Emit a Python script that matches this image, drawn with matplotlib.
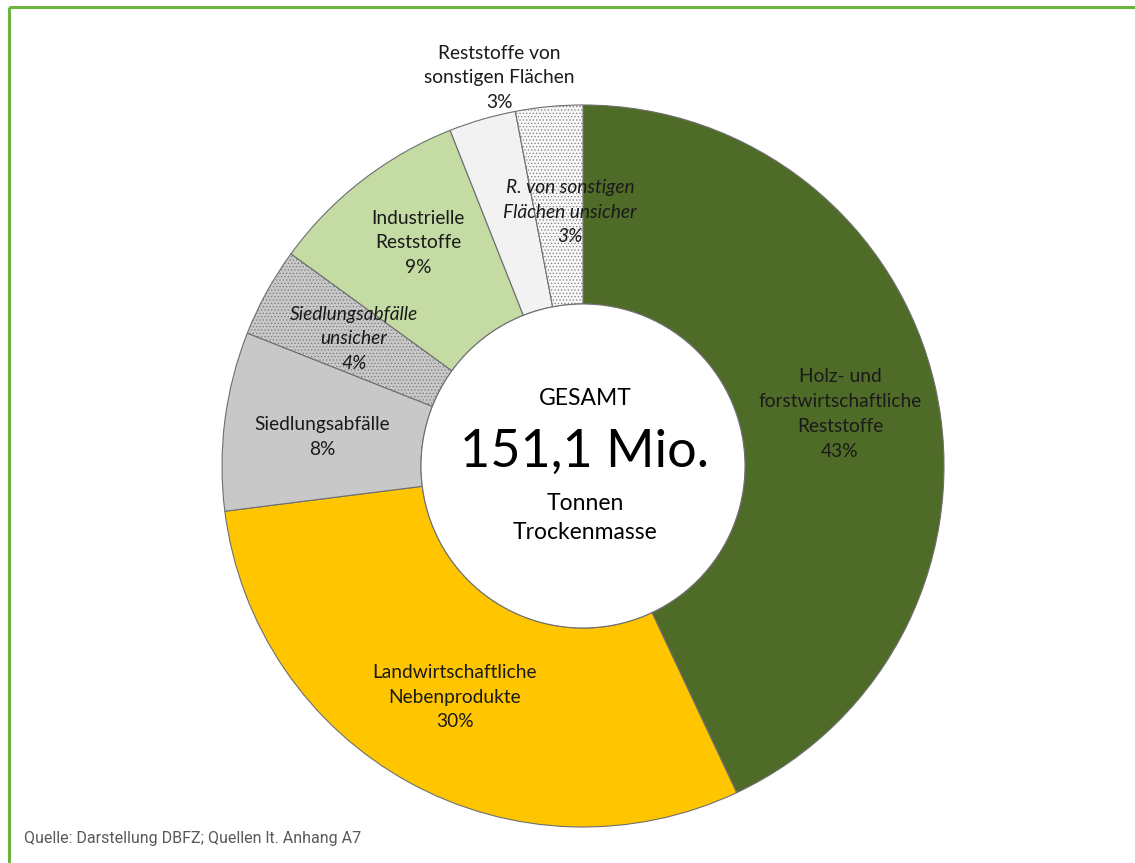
"""Donut chart: biogenic residues potential by source (151,1 Mio. t dry mass)."""

import matplotlib

matplotlib.use("Agg")
import matplotlib.pyplot as plt  # noqa: E402
from matplotlib.patches import Circle, Wedge  # noqa: E402

plt.rcParams["font.family"] = ["Lato", "DejaVu Sans"]
plt.rcParams["hatch.linewidth"] = 0.5

# Shares in percent, clockwise from 12 o'clock.
labels = [
    "Holz- und\nforstwirtschaftliche\nReststoffe",
    "Landwirtschaftliche\nNebenprodukte",
    "Siedlungsabfälle",
    "Siedlungsabfälle\nunsicher",
    "Industrielle\nReststoffe",
    "Reststoffe von\nsonstigen Flächen",
    "R. von sonstigen\nFlächen unsicher",
]
shares = [43, 30, 8, 4, 9, 3, 3]
uncertain = [False, False, False, True, False, False, True]
colors = ["#4F6B28", "#FFC600", "#C8C8C8", "#C8C8C8", "#C4DBA3", "#F2F2F2", "#F7F7F7"]

# Label anchor points in pixel space (x from left, y from top).
label_pos = [
    (840, 414), (455, 697), (322, 437), (354, 339), (418, 243), (499, 78), (570, 212)
]

total_text = "151,1 Mio."

W, H = 1135, 863
CX, CY = 583, H - 466
R_OUT, R_IN = 361, 162

fig = plt.figure(figsize=(W / 100, H / 100), dpi=100)
ax = fig.add_axes([0, 0, 1, 1])

wedges, _ = ax.pie(
    shares,
    colors=colors,
    startangle=90,
    counterclock=False,
    center=(CX, CY),
    radius=R_OUT,
    wedgeprops=dict(width=R_OUT - R_IN, edgecolor="#6E6E6E", linewidth=0.8),
    frame=True,
)
ax.set_xlim(0, W)
ax.set_ylim(0, H)
ax.set_aspect("equal")
ax.axis("off")

# Fine dot pattern over the uncertain shares, drawn as a separate layer.
for w, unc in zip(wedges, uncertain):
    if unc:
        ax.add_patch(Wedge(w.center, w.r, w.theta1, w.theta2, width=w.width,
                           facecolor="none", edgecolor="#7A7A7A", lw=0,
                           hatch=".....", zorder=w.get_zorder() + 0.1))

ax.add_patch(Circle((CX, CY), R_IN, facecolor="white", edgecolor="#6E6E6E", lw=0.8, zorder=3))

for lab, share, (px, py), unc in zip(labels, shares, label_pos, uncertain):
    ax.text(
        px, H - py, f"{lab}\n{share}%",
        ha="center", va="center", fontsize=13.8, linespacing=1.55,
        style="italic" if unc else "normal", color="#1A1A1A", zorder=5,
    )

ax.text(CX + 2, H - 399, "GESAMT", ha="center", va="center", fontsize=16.5, zorder=5)
ax.text(CX + 2, H - 452, total_text, ha="center", va="center", fontsize=37.5, zorder=5)
ax.text(CX + 2, H - 518, "Tonnen\nTrockenmasse", ha="center", va="center",
        fontsize=16.5, linespacing=1.5, zorder=5)

ax.text(24, H - 838, "Quelle: Darstellung DBFZ; Quellen lt. Anhang A7",
        ha="left", va="center", fontsize=11.5, color="#595959",
        family=["Roboto", "DejaVu Sans"])

# Green frame along the top and left edge.
green = "#6DB33F"
ax.plot([8.5, W], [H - 7, H - 7], color=green, lw=2.2, solid_capstyle="butt", zorder=6)
ax.plot([8.5, 8.5], [0, H - 7], color=green, lw=2.2, solid_capstyle="butt", zorder=6)

fig.savefig("out.png", dpi=100)
